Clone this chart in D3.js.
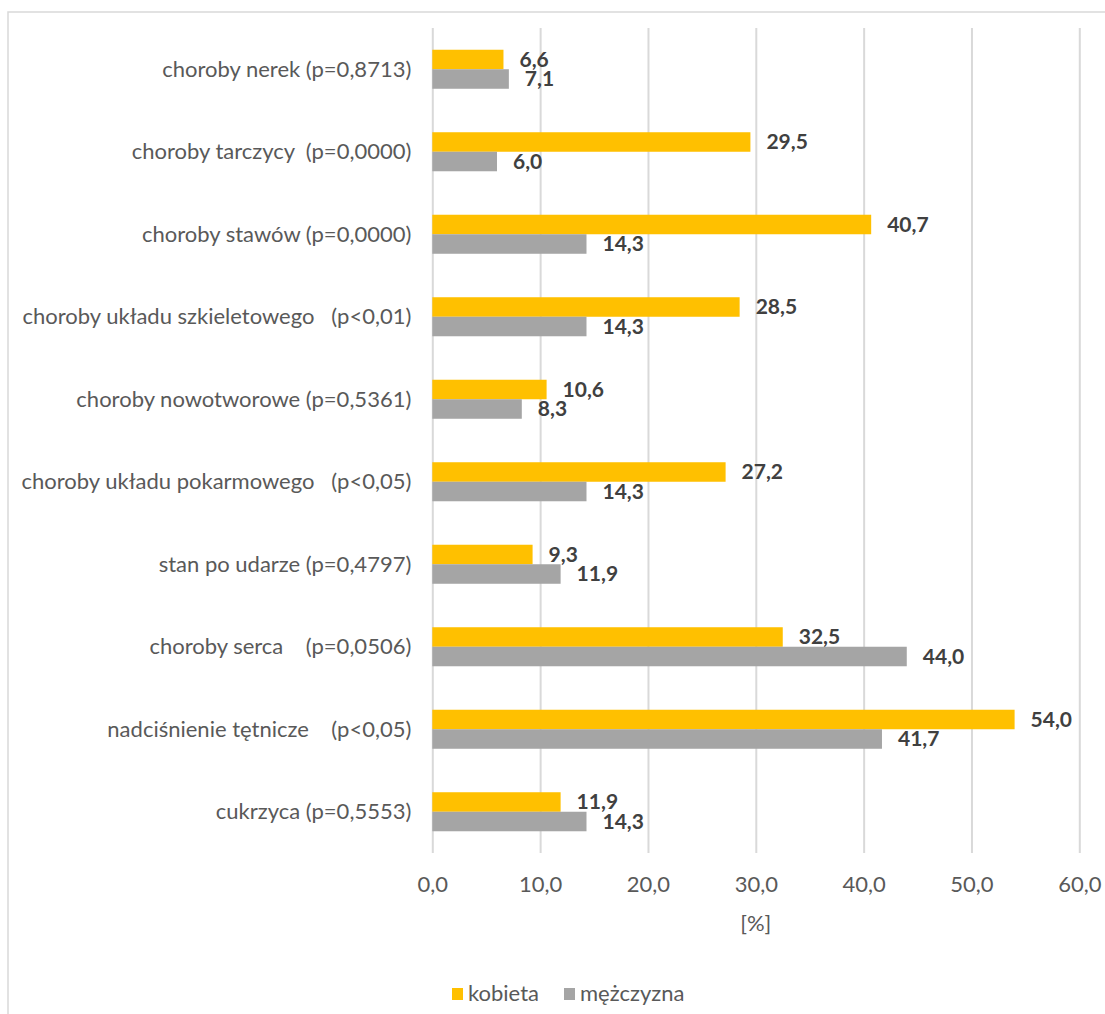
<!DOCTYPE html>
<html>
<head>
<meta charset="utf-8">
<script src="https://cdn.jsdelivr.net/npm/d3@7"></script>
<style>
  html, body { margin: 0; padding: 0; background: #fff; }
  svg { display: block; }
  text { font-family: Lato, "Open Sans", sans-serif; }
</style>
</head>
<body>
<svg id="chart" width="1105" height="1014"></svg>
<script>
// Categories, top to bottom
const categories = [
  "choroby nerek (p=0,8713)",
  "choroby tarczycy  (p=0,0000)",
  "choroby stawów (p=0,0000)",
  "choroby układu szkieletowego   (p<0,01)",
  "choroby nowotworowe (p=0,5361)",
  "choroby układu pokarmowego   (p<0,05)",
  "stan po udarze (p=0,4797)",
  "choroby serca    (p=0,0506)",
  "nadciśnienie tętnicze    (p<0,05)",
  "cukrzyca (p=0,5553)"
];
const seriesNames = ["kobieta", "mężczyzna"];
const kobieta   = [6.6, 29.5, 40.7, 28.5, 10.6, 27.2, 9.3, 32.5, 54.0, 11.9];
const mezczyzna = [7.1, 6.0, 14.3, 14.3, 8.3, 14.3, 11.9, 44.0, 41.7, 14.3];
const xTicks = [0, 10, 20, 30, 40, 50, 60];
const axisTitle = "[%]";

const colors = ["#FFC000", "#A5A5A5"];
const fmt = v => d3.format(".1f")(v).replace(".", ",");

const svg = d3.select("#chart");

// chart frame
svg.append("rect")
  .attr("x", 8).attr("y", 12)
  .attr("width", 1200).attr("height", 1100)
  .attr("fill", "#fff")
  .attr("stroke", "#d9d9d9").attr("stroke-width", 1.5);

const plot = { left: 432.3, right: 1079.3, top: 28, bottom: 853 };

const x = d3.scaleLinear().domain([0, 60]).range([plot.left, plot.right]);
const pad = 0.527;
const y = d3.scaleBand().domain(categories)
  .range([plot.top, plot.bottom])
  .paddingInner(pad).paddingOuter(pad / 2);
const ySub = d3.scaleBand().domain(seriesNames).range([0, y.bandwidth()]);

// vertical gridlines
const xAxis = d3.axisBottom(x).tickValues(xTicks).tickFormat(fmt)
  .tickSize(-(plot.bottom - plot.top)).tickPadding(0);
const gx = svg.append("g")
  .attr("transform", `translate(0,${plot.bottom})`)
  .call(xAxis);
gx.select(".domain").remove();
gx.selectAll(".tick line").attr("stroke", "#d9d9d9").attr("stroke-width", 2);
gx.selectAll(".tick text")
  .attr("y", 39).attr("dy", null)
  .attr("fill", "#595959")
  .style("font-size", "22px");

// category labels
const yAxis = d3.axisLeft(y).tickSize(0).tickPadding(0);
const gy = svg.append("g")
  .attr("transform", `translate(${plot.left - 21},0)`)
  .call(yAxis);
gy.select(".domain").remove();
gy.selectAll(".tick text")
  .attr("fill", "#595959")
  .attr("dy", "0.35em")
  .style("font-size", "22px")
  .style("white-space", "pre")
  .attr("xml:space", "preserve");

// bars
const rows = categories.map((c, i) => ({
  cat: c,
  vals: [
    { s: seriesNames[0], v: kobieta[i], c: colors[0] },
    { s: seriesNames[1], v: mezczyzna[i], c: colors[1] }
  ]
}));

const groups = svg.append("g").selectAll("g")
  .data(rows).join("g")
  .attr("transform", d => `translate(0,${y(d.cat)})`);

groups.selectAll("rect")
  .data(d => d.vals).join("rect")
  .attr("x", x(0))
  .attr("y", d => ySub(d.s))
  .attr("width", d => x(d.v) - x(0))
  .attr("height", ySub.bandwidth())
  .attr("fill", d => d.c);

groups.selectAll("text")
  .data(d => d.vals).join("text")
  .attr("x", d => x(d.v) + 16)
  .attr("y", d => ySub(d.s) + ySub.bandwidth() / 2)
  .attr("dy", "0.35em")
  .attr("fill", "#404040")
  .style("font-size", "21px")
  .style("font-weight", "bold")
  .text(d => fmt(d.v));

// axis title
svg.append("text")
  .attr("x", (plot.left + plot.right) / 2)
  .attr("y", 931)
  .attr("text-anchor", "middle")
  .attr("fill", "#595959")
  .style("font-size", "22px")
  .text(axisTitle);

// legend
const legendX = [452, 564];
const lg = svg.append("g").selectAll("g")
  .data(seriesNames).join("g")
  .attr("transform", (d, i) => `translate(${legendX[i]},988)`);
lg.append("rect")
  .attr("width", 11).attr("height", 12)
  .attr("fill", (d, i) => colors[i]);
lg.append("text")
  .attr("x", 16).attr("y", 13)
  .attr("fill", "#595959")
  .style("font-size", "22px")
  .text(d => d);
</script>
</body>
</html>
